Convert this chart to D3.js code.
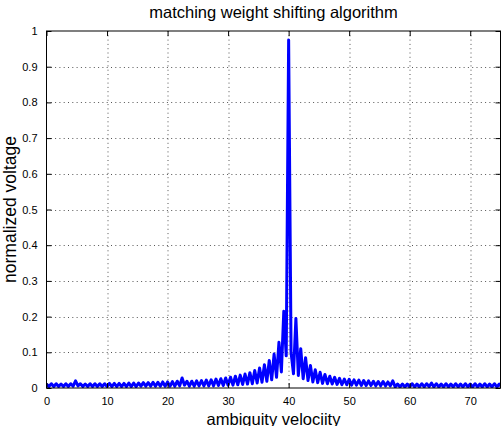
<!DOCTYPE html>
<html>
<head>
<meta charset="utf-8">
<script src="https://cdn.jsdelivr.net/npm/d3@7"></script>
<style>
  body { margin: 0; background: #fff; }
  svg { display: block; font-family: "Liberation Sans", Arial, sans-serif; }
</style>
</head>
<body>
<svg id="chart"></svg>
<script>
// sampling grid of the ambiguity function, 0.4 velocity units per sample
const sampleCount = 189;
const velocity = d3.range(sampleCount).map(i => i * 0.4);

// normalized voltage, one value per sample
const voltage = [
  // 0 .. 9.6
  0.011, 0.004, 0.012, 0.004, 0.012, 0.004, 0.011, 0.004, 0.012, 0.004,
  0.012, 0.005, 0.020, 0.006, 0.012, 0.004, 0.011, 0.004, 0.012, 0.004,
  0.012, 0.004, 0.012, 0.004, 0.012,
  // 10.0 .. 19.6
  0.004, 0.013, 0.004, 0.013, 0.004, 0.013, 0.004, 0.013, 0.004, 0.014,
  0.004, 0.014, 0.004, 0.014, 0.005, 0.015, 0.005, 0.015, 0.005, 0.016,
  0.005, 0.016, 0.005, 0.017, 0.005,
  // 20.0 .. 29.6
  0.017, 0.005, 0.018, 0.005, 0.019, 0.006, 0.028, 0.008, 0.019, 0.005,
  0.019, 0.005, 0.020, 0.006, 0.021, 0.006, 0.022, 0.006, 0.023, 0.006,
  0.025, 0.007, 0.026, 0.007, 0.028,
  // 30.0 .. 39.6
  0.008, 0.030, 0.008, 0.033, 0.009, 0.036, 0.010, 0.039, 0.011, 0.043,
  0.012, 0.049, 0.014, 0.056, 0.016, 0.065, 0.019, 0.077, 0.023, 0.095,
  0.030, 0.128, 0.045, 0.215, 0.090,
  // 40.0 .. 49.6
  0.975, 0.100, 0.040, 0.195, 0.035, 0.110, 0.026, 0.085, 0.021, 0.063,
  0.017, 0.051, 0.015, 0.044, 0.013, 0.038, 0.012, 0.033, 0.011, 0.030,
  0.010, 0.027, 0.009, 0.025, 0.009,
  // 50.0 .. 59.6
  0.024, 0.008, 0.023, 0.008, 0.022, 0.007, 0.021, 0.007, 0.020, 0.007,
  0.019, 0.006, 0.018, 0.006, 0.018, 0.006, 0.017, 0.006, 0.020, 0.003,
  0.011, 0.003, 0.011, 0.003, 0.011,
  // 60.0 .. 69.6
  0.003, 0.012, 0.003, 0.011, 0.003, 0.012, 0.003, 0.012, 0.004, 0.014,
  0.003, 0.012, 0.003, 0.011, 0.003, 0.012, 0.003, 0.011, 0.003, 0.012,
  0.003, 0.011, 0.003, 0.012, 0.003,
  // 70.0 .. 75.2
  0.011, 0.003, 0.012, 0.003, 0.011, 0.003, 0.012, 0.003, 0.011, 0.003,
  0.012, 0.003, 0.011, 0.003
];

const xTicks = [0, 10, 20, 30, 40, 50, 60, 70];
const yTicks = [0, 0.1, 0.2, 0.3, 0.4, 0.5, 0.6, 0.7, 0.8, 0.9, 1];

const titleText = "matching weight shifting algorithm";
const xLabelText = "ambiguity velociity";
const yLabelText = "normalized voltage";

const W = 504, H = 426;
const margin = {top: 31, right: 3.5, bottom: 38, left: 46.5};
const w = W - margin.left - margin.right,
      h = H - margin.top - margin.bottom;

const svg = d3.select("#chart")
    .attr("width", W)
    .attr("height", H);

svg.append("rect").attr("width", W).attr("height", H).attr("fill", "#fff");

const g = svg.append("g")
    .attr("transform", "translate(" + margin.left + "," + margin.top + ")");

const xScale = d3.scaleLinear().domain([0, 75]).range([0, w]);
const yScale = d3.scaleLinear().domain([0, 1]).range([h, 0]);

// dotted grid
g.append("g").selectAll("line")
  .data(xTicks.filter(d => d > 0))
  .enter().append("line")
  .attr("x1", d => Math.round(xScale(d)) + 0.5)
  .attr("x2", d => Math.round(xScale(d)) + 0.5)
  .attr("y1", 0).attr("y2", h)
  .attr("stroke", "#555").attr("stroke-width", 1)
  .attr("stroke-dasharray", "1,3.3");

g.append("g").selectAll("line")
  .data(yTicks.filter(d => d > 0 && d < 1))
  .enter().append("line")
  .attr("y1", d => Math.round(yScale(d)) + 0.5)
  .attr("y2", d => Math.round(yScale(d)) + 0.5)
  .attr("x1", 0).attr("x2", w)
  .attr("stroke", "#555").attr("stroke-width", 1)
  .attr("stroke-dasharray", "1,3.3");

g.append("defs").append("clipPath").attr("id", "clip")
  .append("rect").attr("x", 0).attr("y", -5).attr("width", w).attr("height", h + 5);

// the curve
const line = d3.line()
  .x((d, i) => xScale(velocity[i]))
  .y(d => yScale(d));

g.append("path")
  .datum(voltage)
  .attr("clip-path", "url(#clip)")
  .attr("d", line)
  .attr("fill", "none")
  .attr("stroke", "#0000ff")
  .attr("stroke-width", 3)
  .attr("stroke-linejoin", "round");

// axes, MATLAB style: ticks inside on all four sides
const tickLen = 5;
const xAxis = d3.axisBottom(xScale).tickValues(xTicks).tickSize(-tickLen).tickPadding(tickLen + 4);
const yAxis = d3.axisLeft(yScale).tickValues(yTicks).tickSize(-tickLen).tickPadding(tickLen + 4)
  .tickFormat(d => d === 0 || d === 1 ? String(d) : d3.format(".1f")(d));

const gX = g.append("g").attr("transform", "translate(0," + h + ")").call(xAxis);
const gY = g.append("g").call(yAxis);
const gXt = g.append("g").call(d3.axisTop(xScale).tickValues(xTicks).tickSize(-tickLen).tickFormat(""));
const gYr = g.append("g").attr("transform", "translate(" + w + ",0)")
  .call(d3.axisRight(yScale).tickValues(yTicks).tickSize(-tickLen).tickFormat(""));

[gX, gY, gXt, gYr].forEach(a => {
  a.select(".domain").remove();
  a.selectAll(".tick line").attr("stroke", "#000");
  a.selectAll("text").attr("font-size", "11px").attr("fill", "#000")
    .style("font-family", "'Liberation Sans', Arial, sans-serif");
});

g.append("rect")
  .attr("x", 0).attr("y", 0).attr("width", w).attr("height", h)
  .attr("fill", "none").attr("stroke", "#000").attr("stroke-width", 1);

// texts (the x label runs off the bottom edge in the original too)
svg.append("text")
  .attr("x", margin.left + w / 2).attr("y", 18)
  .attr("text-anchor", "middle").attr("font-size", "16.5px")
  .text(titleText);

svg.append("text")
  .attr("x", margin.left + w / 2).attr("y", 425)
  .attr("text-anchor", "middle").attr("font-size", "16.5px")
  .text(xLabelText);

svg.append("text")
  .attr("transform", "translate(16," + (margin.top + h / 2) + ") rotate(-90)")
  .attr("text-anchor", "middle").attr("font-size", "17.5px")
  .text(yLabelText);
</script>
</body>
</html>
